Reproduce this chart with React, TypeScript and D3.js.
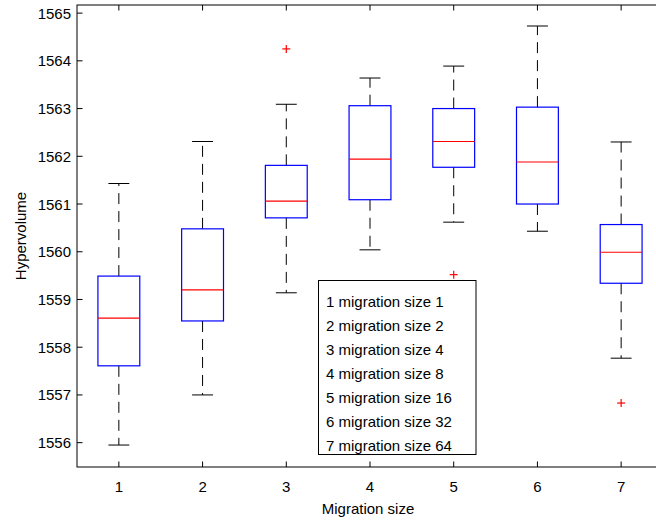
import React from "react";
import * as d3 from "d3";

const categories = [1, 2, 3, 4, 5, 6, 7];
const whiskerLow = [1555.95, 1557.0, 1559.14, 1560.04, 1560.62, 1560.43, 1557.77];
const q1 = [1557.61, 1558.55, 1560.71, 1561.09, 1561.77, 1561.0, 1559.34];
const medians = [1558.61, 1559.2, 1561.06, 1561.94, 1562.31, 1561.88, 1559.99];
const q3 = [1559.49, 1560.48, 1561.81, 1563.06, 1563.0, 1563.03, 1560.57];
const whiskerHigh = [1561.43, 1562.31, 1563.09, 1563.64, 1563.89, 1564.73, 1562.3];
const outliers: [number, number][] = [
  [3, 1564.25],
  [5, 1559.52],
  [7, 1556.83],
];
const yTicks = [1556, 1557, 1558, 1559, 1560, 1561, 1562, 1563, 1564, 1565];
const legendLabels = [
  "1 migration size 1",
  "2 migration size 2",
  "3 migration size 4",
  "4 migration size 8",
  "5 migration size 16",
  "6 migration size 32",
  "7 migration size 64",
];

const W = 656;
const H = 520;
const left = 77;
const top = 5;
const bottom = 467;
const right = 663;
const FONT = "'Liberation Sans', Arial, sans-serif";

export default function App() {
  const x = d3.scaleLinear().domain([0.5, 7.5]).range([left, right]);
  const y = d3.scaleLinear().domain([1555.49, 1565.17]).range([bottom, top]);
  const step = x(2) - x(1);
  const boxW = step * 0.5;
  const capW = step * 0.25;
  const tickLen = 5.5;

  return (
    <svg
      width={W}
      height={H}
      style={{ position: "absolute", left: 0, top: 0, background: "#fff" }}
      fontFamily={FONT}
    >
      <rect x={0} y={0} width={W} height={H} fill="#fff" />
      {/* frame */}
      <rect
        x={left}
        y={top}
        width={right - left}
        height={bottom - top}
        fill="none"
        stroke="#000"
        strokeWidth={1}
      />
      {/* y ticks */}
      {yTicks.map((t) => (
        <g key={"y" + t}>
          <line x1={left} x2={left + tickLen} y1={y(t)} y2={y(t)} stroke="#000" />
          <line x1={right} x2={right - tickLen} y1={y(t)} y2={y(t)} stroke="#000" />
          <text
            x={left - 6}
            y={y(t)}
            textAnchor="end"
            dominantBaseline="central"
            fontSize={15}
            fill="#000"
          >
            {t}
          </text>
        </g>
      ))}
      {/* x ticks */}
      {categories.map((c) => (
        <g key={"x" + c}>
          <line x1={x(c)} x2={x(c)} y1={bottom} y2={bottom - tickLen} stroke="#000" />
          <line x1={x(c)} x2={x(c)} y1={top} y2={top + tickLen} stroke="#000" />
          <text
            x={x(c)}
            y={486}
            textAnchor="middle"
            dominantBaseline="central"
            fontSize={15}
            fill="#000"
          >
            {c}
          </text>
        </g>
      ))}
      {/* boxes */}
      {categories.map((c, i) => {
        const cx = x(c);
        return (
          <g key={"b" + c}>
            <line
              x1={cx}
              x2={cx}
              y1={y(q3[i])}
              y2={y(whiskerHigh[i])}
              stroke="#000"
              strokeDasharray="11,7"
            />
            <line
              x1={cx}
              x2={cx}
              y1={y(q1[i])}
              y2={y(whiskerLow[i])}
              stroke="#000"
              strokeDasharray="11,7"
            />
            <line
              x1={cx - capW / 2}
              x2={cx + capW / 2}
              y1={y(whiskerHigh[i])}
              y2={y(whiskerHigh[i])}
              stroke="#000"
            />
            <line
              x1={cx - capW / 2}
              x2={cx + capW / 2}
              y1={y(whiskerLow[i])}
              y2={y(whiskerLow[i])}
              stroke="#000"
            />
            <rect
              x={cx - boxW / 2}
              y={y(q3[i])}
              width={boxW}
              height={y(q1[i]) - y(q3[i])}
              fill="none"
              stroke="#0000ff"
              strokeWidth={1.2}
            />
            <line
              x1={cx - boxW / 2}
              x2={cx + boxW / 2}
              y1={y(medians[i])}
              y2={y(medians[i])}
              stroke="#ff0000"
              strokeWidth={1.2}
            />
          </g>
        );
      })}
      {/* outliers */}
      {outliers.map(([c, v], i) => (
        <g key={"o" + i} stroke="#ff0000" strokeWidth={1.2}>
          <line x1={x(c) - 4} x2={x(c) + 4} y1={y(v)} y2={y(v)} />
          <line x1={x(c)} x2={x(c)} y1={y(v) - 4} y2={y(v) + 4} />
        </g>
      ))}
      {/* legend */}
      <rect x={318.5} y={280.5} width={157.5} height={174} fill="#fff" stroke="#000" />
      {legendLabels.map((l, i) => (
        <text
          key={l}
          x={326}
          y={301.5 + i * 24}
          dominantBaseline="central"
          fontSize={15}
          fill="#000"
        >
          {l}
        </text>
      ))}
      {/* axis labels */}
      <text
        x={(left + right) / 2 - 2}
        y={508}
        textAnchor="middle"
        dominantBaseline="central"
        fontSize={15}
        fill="#000"
      >
        Migration size
      </text>
      <text
        transform={`translate(20,${(top + bottom) / 2}) rotate(-90)`}
        textAnchor="middle"
        dominantBaseline="central"
        fontSize={15}
        fill="#000"
      >
        Hypervolume
      </text>
    </svg>
  );
}
